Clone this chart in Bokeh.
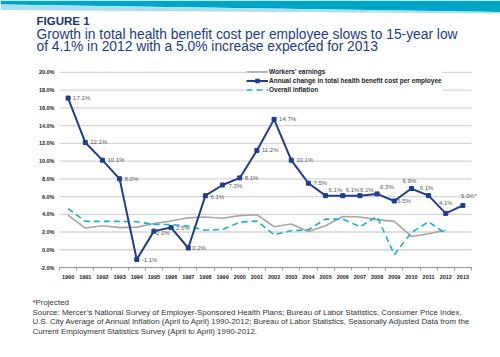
from bokeh.plotting import figure
from bokeh.models import (ColumnDataSource, FixedTicker, Legend, LegendItem, Range1d,
                          LinearAxis)
from bokeh.core.properties import value
from bokeh.embed import file_html
from bokeh.resources import INLINE

FONT = value("Liberation Sans")

# ---------------- data ----------------
years = list(range(1990, 2014))
health_cost = [17.1, 12.1, 10.1, 8.0, -1.1, 2.1, 2.5, 0.2, 6.1, 7.3, 8.1, 11.2,
               14.7, 10.1, 7.5, 6.1, 6.1, 6.1, 6.3, 5.5, 6.9, 6.1, 4.1, 5.0]
health_labels = ["17.1%", "12.1%", "10.1%", "8.0%", "-1.1%", "2.1%", "2.5%", "0.2%",
                 "6.1%", "7.3%", "8.1%", "11.2%", "14.7%", "10.1%", "7.5%", "6.1%",
                 "6.1%", "6.1%", "6.3%", "5.5%", "6.9%", "6.1%", "4.1%", "5.0%*"]
years_hist = list(range(1990, 2013))
workers_earnings = [3.9, 2.45, 2.7, 2.5, 2.55, 2.95, 3.25, 3.6, 3.7, 3.55, 3.85, 3.95,
                    2.6, 2.9, 2.05, 2.7, 3.75, 3.7, 3.4, 3.2, 1.5, 1.8, 2.2]
inflation = [4.65, 3.2, 3.2, 3.2, 3.15, 2.85, 2.85, 2.65, 2.2, 2.3, 3.1, 3.25,
             1.7, 2.15, 2.25, 3.45, 3.45, 2.6, 3.75, -0.55, 1.95, 3.15, 1.8]
y_ticks = [-2, 0, 2, 4, 6, 8, 10, 12, 14, 16, 18, 20]

figure_label = "FIGURE 1"
title_lines = ["Growth in total health benefit cost per employee slows to 15-year low",
               "of 4.1% in 2012 with a 5.0% increase expected for 2013"]
note_lines = ["*Projected",
              "Source: Mercer\u2019s National Survey of Employer-Sponsored Health Plans; Bureau of Labor Statistics, Consumer Price Index,",
              "U.S. City Average of Annual Inflation (April to April) 1990-2012; Bureau of Labor Statistics, Seasonally Adjusted Data from the",
              "Current Employment Statistics Survey (April to April) 1990-2012."]

# label placement (screen px offsets), not data
lab_dx = [5, 5, 5, 5, 5, 2, 5, 4, 5, 6, 5, 5, 5, 5, 5, 3, 3, 0, 3, 3, -2, -2, 0, -2]
lab_dy = [0, 0, 0, 0, 0, 2, 0, 0, 1, 1, 0, 0, 0, 0, 0, -6, -6, -6, -7, 0, -8, -8, -10, -9]
lab_align = ["left"] * 20 + ["center", "center", "center", "left"]

NAVY = "#1f3d8c"
GRAY = "#a6a6a6"
CYAN = "#14afd6"
TITLE_C = "#1b3b85"

# ---------------- page geometry (pixels) ----------------
W, H = 500, 357
PL, PR, PT, PB = 59, 471, 63, 267          # plot-area edges on the page
X0, X1 = 1989.5, 2013.5                     # visible category span
Y0, Y1 = -2.0, 21.0                         # value span of plot area
kx = (PR - PL) / (X1 - X0)
ky = (PB - PT) / (Y1 - Y0)
x_range = Range1d(X0 - PL / kx, X1 + (W - PR) / kx)
y_range = Range1d(Y0 - (H - PB) / ky, Y1 + PT / ky)

p = figure(width=W, height=H, x_range=x_range, y_range=y_range, title=None,
           toolbar_location=None, output_backend="svg", min_border=0,
           x_axis_location=None, y_axis_location=None)
p.outline_line_color = None
p.grid.visible = False
p.background_fill_color = "white"
p.border_fill_color = "white"
# page-pixel coordinate system for header/footer decoration
p.extra_x_ranges = {"px": Range1d(0, W)}
p.extra_y_ranges = {"px": Range1d(H, 0)}

# gridlines
p.segment(x0=[X0] * len(y_ticks), x1=[X1] * len(y_ticks), y0=y_ticks, y1=y_ticks,
          line_color="#d6d6d6", line_width=1.3)

# axes drawn at fixed positions inside the canvas
xa = LinearAxis(fixed_location=Y0, bounds=(X0, X1),
                ticker=FixedTicker(ticks=years, minor_ticks=[y - 0.5 for y in years] + [X1]))
xa.major_tick_line_color = None
xa.major_tick_out = 0
xa.major_tick_in = 0
xa.minor_tick_line_color = "#9a9a9a"
xa.minor_tick_out = 3
xa.minor_tick_in = 0
xa.axis_line_color = "#9a9a9a"
xa.axis_line_width = 1.2
xa.major_label_standoff = 4
xa.major_label_overrides = {y: str(y) for y in years}

ya = LinearAxis(fixed_location=X0, bounds=(Y0, 20), ticker=FixedTicker(ticks=y_ticks))
ya.axis_line_color = None
ya.major_tick_line_color = None
ya.minor_tick_line_color = None
ya.major_tick_out = 0
ya.major_tick_in = 0
ya.major_label_standoff = 5
ya.major_label_overrides = {t: f"{t:.1f}%" for t in y_ticks}

for ax in (xa, ya):
    ax.major_label_text_font = "Liberation Sans"
    ax.major_label_text_font_style = "bold"
    ax.major_label_text_font_size = "5.5px"
    ax.major_label_text_color = "#222222"
p.add_layout(xa, "below")
p.add_layout(ya, "left")

src_h = ColumnDataSource(dict(x=years, y=health_cost, lab=health_labels,
                              dx=lab_dx, dy=lab_dy, al=lab_align))
r_w = p.line(years_hist, workers_earnings, line_color=GRAY, line_width=1.6)
r_i = p.line(years_hist, inflation, line_color=CYAN, line_width=1.6, line_dash="6 4")
r_h = p.line("x", "y", source=src_h, line_color=NAVY, line_width=2)
r_hm = p.scatter("x", "y", source=src_h, marker="square", size=4,
                 fill_color=NAVY, line_color=NAVY)
p.text("x", "y", text="lab", source=src_h, x_offset="dx", y_offset="dy",
       text_align="al", text_baseline="middle", text_font=FONT,
       text_font_size="6px", text_color="#5a5a5a")

legend = Legend(items=[
    LegendItem(label="Workers' earnings", renderers=[r_w]),
    LegendItem(label="Annual change in total health benefit cost per employee", renderers=[r_h, r_hm]),
    LegendItem(label="Overall inflation", renderers=[r_i]),
], location=(246, H - 94))
legend.padding = 2
legend.spacing = 0
legend.margin = 0
legend.label_height = 9
legend.glyph_height = 9
legend.glyph_width = 22
legend.label_standoff = 1
legend.label_text_font = "Liberation Sans"
legend.label_text_font_style = "bold"
legend.label_text_font_size = "6.5px"
legend.label_text_color = "#222222"
legend.border_line_color = None
legend.background_fill_color = "white"
legend.background_fill_alpha = 1
p.add_layout(legend, "center")

# ---------------- header band and texts (page pixels) ----------------
p.patch([0, W, W, 0], [0, 0, 11.5, 4], color="#00a6c6", line_width=0,
        x_range_name="px", y_range_name="px")
p.patch([0, W, W, 0], [4, 11.5, 13, 9.5], color="#a9dff0", line_width=0,
        x_range_name="px", y_range_name="px")
p.text(x=[36], y=[20.3], text=[figure_label], text_font=FONT, text_font_style="bold",
       text_font_size="11.5px", text_color="#1a3470", text_baseline="alphabetic",
       x_range_name="px", y_range_name="px")
p.text(x=[36, 36], y=[34, 45.7], text=title_lines, text_font=FONT, text_font_size="13.8px",
       text_color=TITLE_C, text_baseline="alphabetic", x_range_name="px", y_range_name="px")
p.text(x=[32] * 4, y=[302.3, 312.3, 321.3, 330.7], text=note_lines, text_font=FONT,
       text_font_size="7.9px", text_color="#333333", text_baseline="middle",
       x_range_name="px", y_range_name="px")

open("out.html", "w").write(file_html(p, INLINE))
